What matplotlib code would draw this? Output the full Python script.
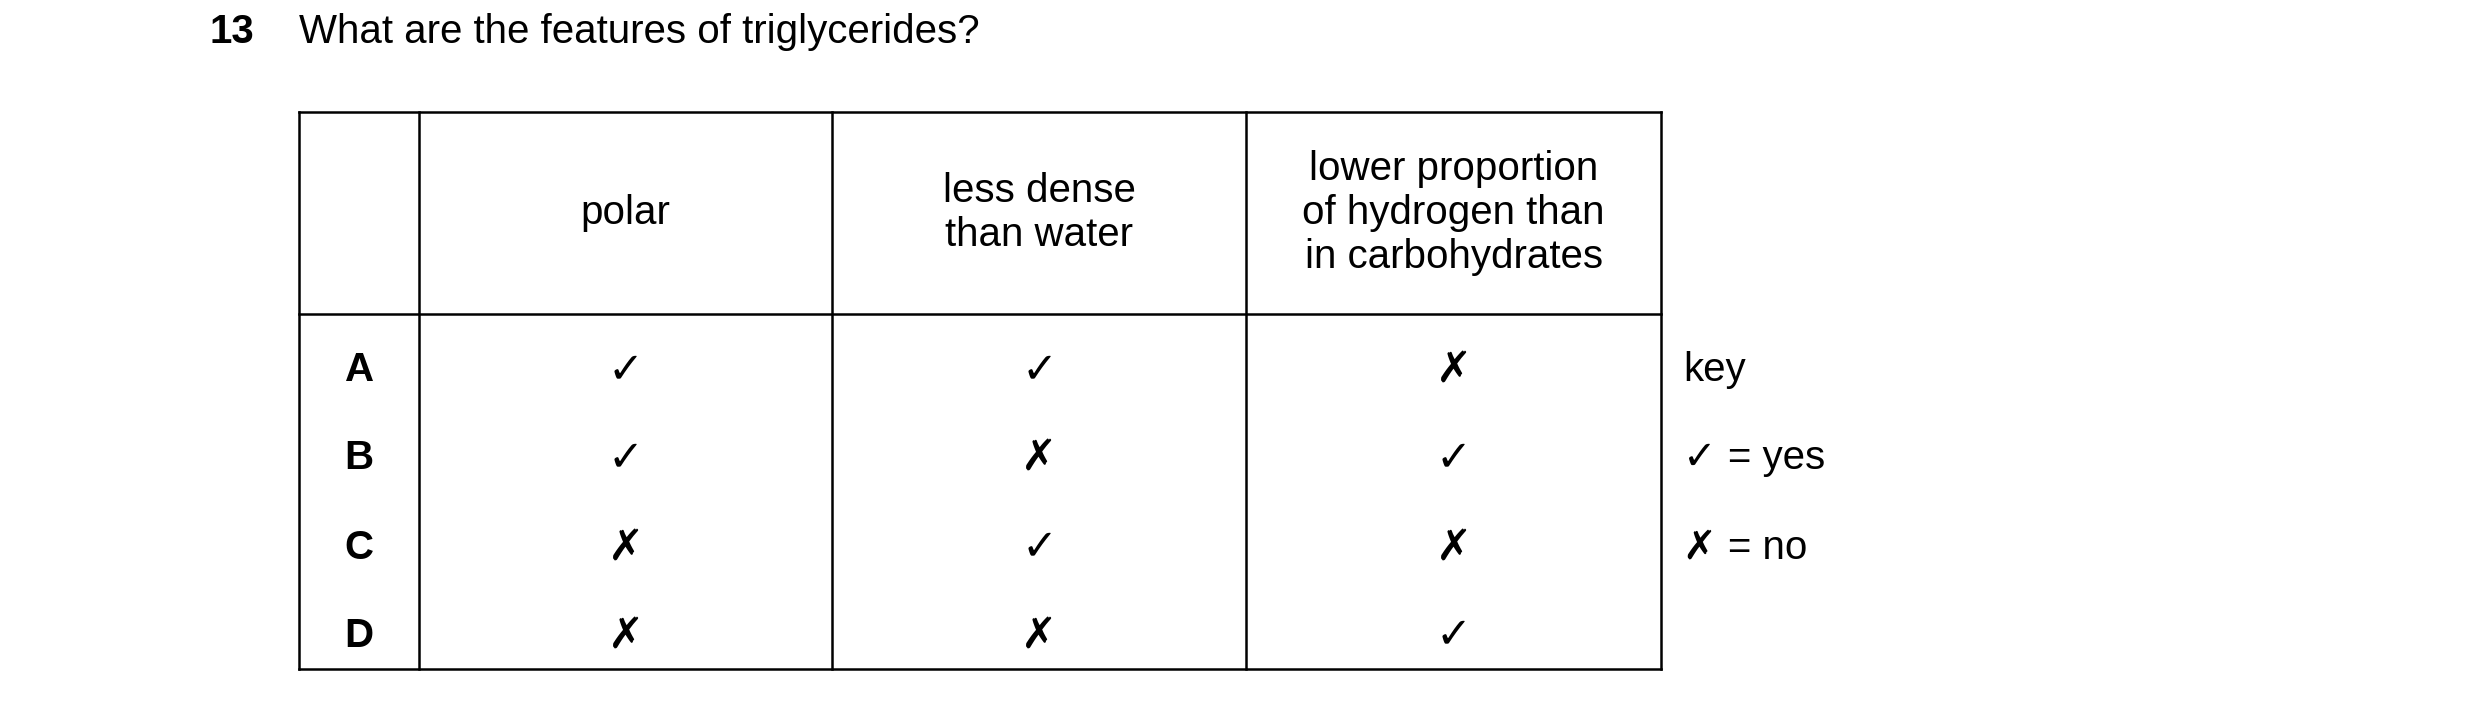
import matplotlib.pyplot as plt

question = "What are the features of triglycerides?"
headers = ["polar", "less dense\nthan water", "lower proportion\nof hydrogen than\nin carbohydrates"]
options = ["A", "B", "C", "D"]
marks = [
    [True, True, False],
    [True, False, True],
    [False, True, False],
    [False, False, True],
]
key_lines = ["key", "\u2713 = yes", "\u2717 = no"]

plt.rcParams['font.family'] = ['Liberation Sans', 'DejaVu Sans']

fig = plt.figure(figsize=(24.8, 7.03), dpi=100)
ax = fig.add_axes([0, 0, 1, 1])
ax.set_xlim(0, 1550)
ax.set_ylim(439, 0)
ax.axis('off')

fs = 29
ax.text(131, 20, "13", fontsize=fs, fontweight='bold', va='center')
ax.text(187, 20, question, fontsize=fs, va='center')

cols = [187, 262, 520, 779, 1038]
top, mid, bot = 70, 196, 418
lw = 1.8
for x in cols:
    ax.plot([x, x], [top, bot], color='black', lw=lw)
for y in [top, mid, bot]:
    ax.plot([cols[0], cols[-1]], [y, y], color='black', lw=lw)

for i, h in enumerate(headers):
    ax.text((cols[i + 1] + cols[i + 2]) / 2, (top + mid) / 2, h, fontsize=fs,
            ha='center', va='center', linespacing=1.2)

row_y = [231, 286, 342, 397]
for r, (opt, row) in enumerate(zip(options, marks)):
    ax.text((cols[0] + cols[1]) / 2, row_y[r], opt, fontsize=fs, fontweight='bold',
            ha='center', va='center')
    for c, m in enumerate(row):
        ax.text((cols[c + 1] + cols[c + 2]) / 2, row_y[r], "\u2713" if m else "\u2717",
                fontsize=fs + 2, fontweight='bold', ha='center', va='center',
                family=['DejaVu Sans'])

for k, line in enumerate(key_lines):
    ax.text(1052, row_y[k], line, fontsize=fs, va='center',
            family=['Liberation Sans', 'DejaVu Sans'])

fig.savefig("out.png", dpi=100)
